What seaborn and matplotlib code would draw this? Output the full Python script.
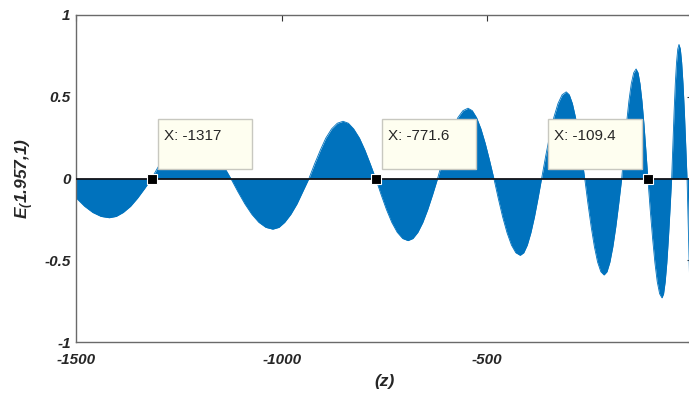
import matplotlib
matplotlib.use('Agg')
import matplotlib.pyplot as plt
import matplotlib.transforms as mtrans
from matplotlib.patches import Rectangle
import seaborn as sns
import pandas as pd

# ---- data (z, E) ----
z = [-1500, -1480, -1460, -1440, -1420, -1403, -1386, -1368, -1351, -1334, -1317,
     -1301, -1285, -1269, -1253, -1237, -1221, -1205, -1189, -1172, -1156, -1140, -1124,
     -1107, -1090, -1073, -1056, -1039, -1022, -1007, -993, -978, -963, -949, -934,
     -920, -906, -893, -879, -865, -851, -838, -825, -811, -798, -785, -771.6,
     -758.5, -745.4, -732.3, -719.2, -706, -693, -681, -669, -657, -645, -633, -621,
     -608.7, -596.3, -584, -571.7, -559.3, -547, -536.5, -526, -515.5, -505, -494.5, -484,
     -473.3, -462.7, -452, -441.3, -430.7, -420, -411.3, -402.7, -394, -385.3, -376.7, -368,
     -358, -348, -338, -328, -318, -308, -300.5, -293, -285.5, -278, -270.5, -263,
     -255.2, -247.3, -239.5, -231.7, -223.8, -216, -208.8, -201.7, -194.5, -187.3, -180.2, -173,
     -167.2, -161.3, -155.5, -149.7, -143.8, -138, -133.2, -128.5, -123.7, -118.9, -114.2, -109.4,
     -103.7, -97.9, -92.2, -86.5, -80.7, -75, -71.1, -67.2, -63.2, -59.3, -55.4, -51.5,
     -48.5, -45.5, -42.6, -39.6, -36.6, -33.6, -30.3, -27.1, -23.8, -20.5, -17.3, -14,
     -11, -8, -5, -2, 0]
E = [-0.12, -0.17, -0.208, -0.232, -0.24, -0.232, -0.208, -0.17, -0.12, -0.062, 0,
     0.07, 0.135, 0.191, 0.234, 0.261, 0.27, 0.261, 0.234, 0.191, 0.135, 0.07, 0,
     -0.08, -0.155, -0.219, -0.268, -0.299, -0.31, -0.299, -0.268, -0.219, -0.155, -0.08, 0,
     0.091, 0.175, 0.247, 0.303, 0.338, 0.35, 0.338, 0.303, 0.247, 0.175, 0.091, 0,
     -0.098, -0.19, -0.269, -0.329, -0.367, -0.38, -0.367, -0.329, -0.269, -0.19, -0.098, 0,
     0.111, 0.215, 0.304, 0.372, 0.415, 0.43, 0.415, 0.372, 0.304, 0.215, 0.111, 0,
     -0.122, -0.235, -0.332, -0.407, -0.454, -0.47, -0.454, -0.407, -0.332, -0.235, -0.122, 0,
     0.137, 0.265, 0.375, 0.459, 0.512, 0.53, 0.512, 0.459, 0.375, 0.265, 0.137, 0,
     -0.153, -0.295, -0.417, -0.511, -0.57, -0.59, -0.57, -0.511, -0.417, -0.295, -0.153, 0,
     0.174, 0.335, 0.474, 0.58, 0.647, 0.67, 0.647, 0.58, 0.474, 0.335, 0.174, 0,
     -0.189, -0.365, -0.516, -0.632, -0.705, -0.73, -0.705, -0.632, -0.516, -0.365, -0.189, 0,
     0.212, 0.41, 0.58, 0.71, 0.792, 0.82, 0.792, 0.71, 0.58, 0.41, 0.212, 0,
     -0.3, -0.6, -0.82, -0.93, -0.95]

tip_x = [-1317, -771.6, -109.4]
tip_side = ['right', 'right', 'left']

x_ticks = [-1500, -1000, -500]
x_tick_labels = ['-1500', '-1000', '-500']
y_ticks = [-1, -0.5, 0, 0.5, 1]
y_tick_labels = ['-1', '-0.5', '0', '0.5', '1']

# ---- style ----
sns.set_theme(style='white')
plt.rcParams['font.family'] = ['Liberation Sans', 'DejaVu Sans']
plt.rcParams['mathtext.fontset'] = 'custom'
plt.rcParams['mathtext.rm'] = 'Liberation Sans:bold:italic'
plt.rcParams['mathtext.it'] = 'Liberation Sans:bold:italic'
plt.rcParams['mathtext.bf'] = 'Liberation Sans:bold:italic'

W, H = 689, 397
fig = plt.figure(figsize=(W / 100, H / 100), dpi=100)
fig.patch.set_facecolor('white')
ax = fig.add_axes([76.3 / W, 55 / H, 616.5 / W, 327 / H])

df = pd.DataFrame({'z': z, 'E': E})
blue = '#0072BD'
ax.fill_between(df['z'], df['E'], 0, color=blue, lw=0, zorder=2)
sns.lineplot(data=df, x='z', y='E', ax=ax, color=blue, lw=0.6, zorder=2)
ax.axhline(0, color='#111318', lw=1.3, zorder=3)

ax.set_xlim(-1500, 0)
ax.set_ylim(-1, 1)
ax.set_xticks(x_ticks, x_tick_labels, fontweight='bold', fontstyle='italic', fontsize=11)
ax.set_yticks(y_ticks, y_tick_labels, fontweight='bold', fontstyle='italic', fontsize=11)
ax.tick_params(direction='in', length=4, width=0.8, top=True, right=True,
               color='#333333', labelcolor='#262626')
ax.tick_params(axis='x', pad=8)
ax.tick_params(axis='y', pad=4)
for s in ax.spines.values():
    s.set_color('#6a6a6a')
    s.set_linewidth(1.0)

ax.set_xlabel('(z)', fontsize=12.5, fontweight='bold', fontstyle='italic', color='#262626')
ax.set_ylabel(r'$E_{(}1.957{,}1)$', fontsize=12.5, color='#262626')
ax.xaxis.set_label_coords(0.5007, -0.097)
ax.yaxis.set_label_coords(-0.065, 0.5)

# ---- data tips ----
ax.plot(tip_x, [0] * len(tip_x), 's', ms=7, mfc='black', mec='white', mew=0.8,
        zorder=6, clip_on=False)
ident = mtrans.IdentityTransform()
for tx, side in zip(tip_x, tip_side):
    px, py = ax.transData.transform((tx, 0))
    bw, bh = 94, 50
    left = px + 6 if side == 'right' else px - 6 - bw
    bottom = py + 9.5
    rect = Rectangle((left, bottom), bw, bh, transform=ident, facecolor='#FEFEF0',
                     edgecolor='#c8c8c0', lw=1.0, zorder=4)
    fig.add_artist(rect)
    fig.text(left + 6, bottom + bh - 17, f'X: {tx:g}', transform=ident,
             ha='left', va='center', fontsize=11, color='#262626', zorder=5)

fig.savefig('out.png', dpi=100)
